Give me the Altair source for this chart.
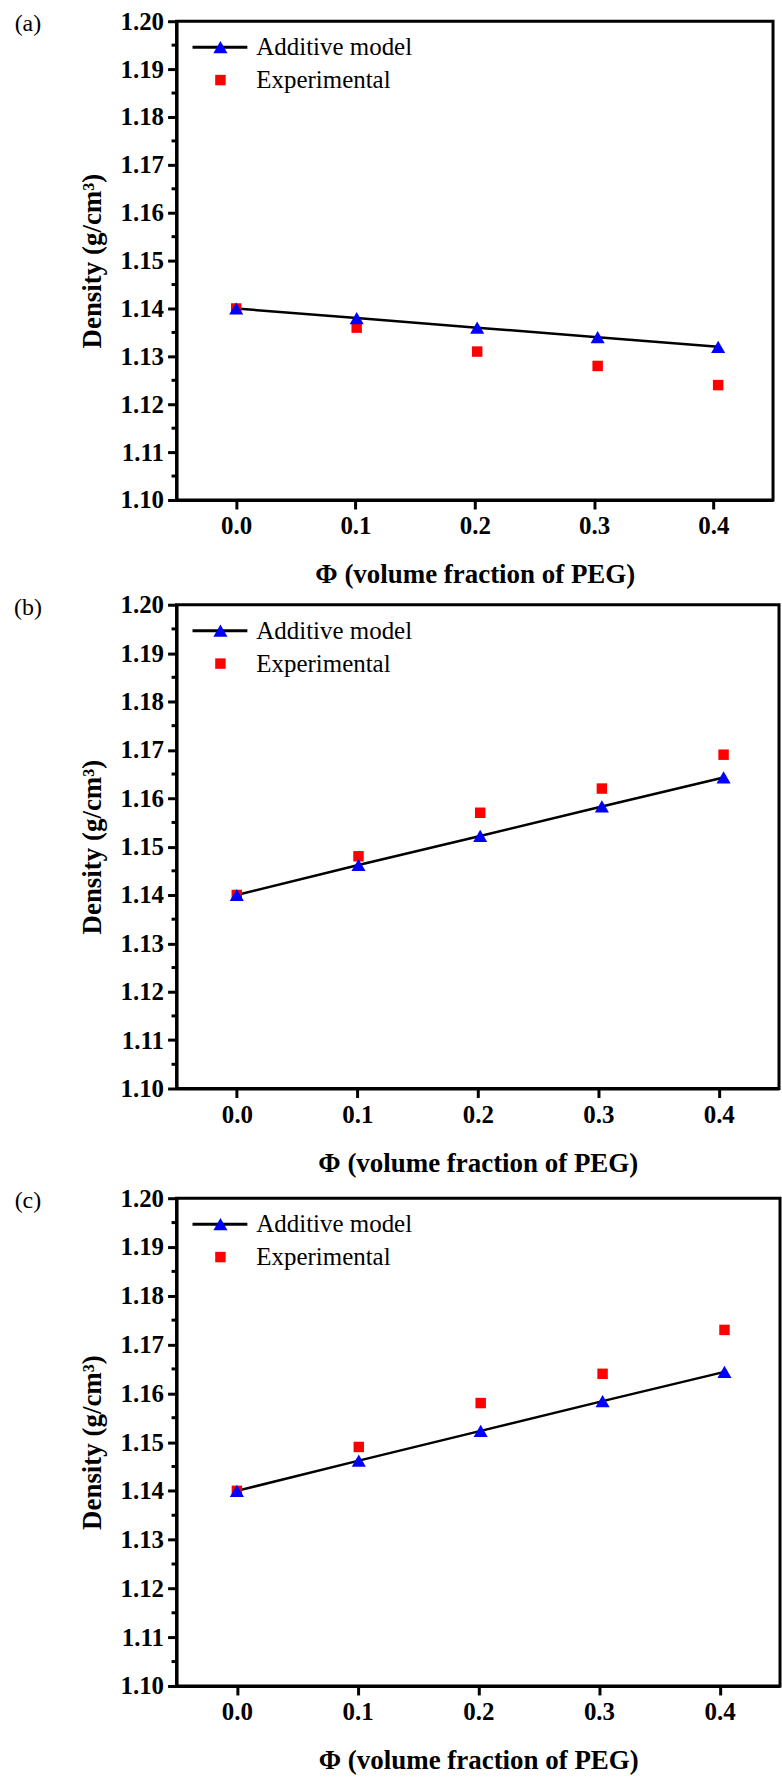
import altair as alt
import pandas as pd

phi = [0.0, 0.101, 0.202, 0.303, 0.404]
additive_a = [1.140, 1.138, 1.136, 1.134, 1.132]
experimental_a = [1.140, 1.136, 1.131, 1.128, 1.124]
additive_b = [1.140, 1.1462, 1.1522, 1.1583, 1.1643]
experimental_b = [1.140, 1.148, 1.157, 1.162, 1.169]
additive_c = [1.140, 1.1462, 1.1523, 1.1584, 1.1644]
experimental_c = [1.140, 1.149, 1.158, 1.164, 1.173]
panel_labels = ["(a)", "(b)", "(c)"]
x_ticks = [0.0, 0.1, 0.2, 0.3, 0.4]
y_ticks = [1.10, 1.11, 1.12, 1.13, 1.14, 1.15, 1.16, 1.17, 1.18, 1.19, 1.20]
y_minor = [1.105, 1.115, 1.125, 1.135, 1.145, 1.155, 1.165, 1.175, 1.185, 1.195]
legend_names = ["Additive model", "Experimental"]

FONT = "Liberation Serif"


def panel(label, add, exp, width, height):
    df = pd.DataFrame({"phi": phi, "additive": add, "experimental": exp})
    xs = alt.Scale(domain=[-0.05, 0.45], nice=False, zero=False)
    ys = alt.Scale(domain=[1.10, 1.20], nice=False, zero=False)
    xax = alt.Axis(values=x_ticks, format=".1f", title="Φ (volume fraction of PEG)",
                   grid=False, tickSize=9, tickWidth=3, domainWidth=3, domainColor="black",
                   tickColor="black", labelFont=FONT, labelFontSize=25, labelFontWeight="bold",
                   labelColor="black", labelPadding=5, titleFont=FONT, titleFontSize=27,
                   titleFontWeight="bold", titleColor="black", titlePadding=23)
    yax = alt.Axis(values=y_ticks, format=".2f", title="Density (g/cm³)",
                   grid=False, tickSize=9, tickWidth=3, domainWidth=3, domainColor="black",
                   tickColor="black", labelFont=FONT, labelFontSize=25, labelFontWeight="bold",
                   labelColor="black", labelPadding=4, titleFont=FONT, titleFontSize=27,
                   titleFontWeight="bold", titleColor="black", titlePadding=13)
    base = alt.Chart(df)
    line = base.mark_line(color="black", strokeWidth=2.5).encode(
        x=alt.X("phi:Q", scale=xs, axis=xax), y=alt.Y("additive:Q", scale=ys, axis=yax))
    sq = base.mark_point(shape="square", filled=True, color="#ff0000", size=110, opacity=1).encode(
        x="phi:Q", y="experimental:Q")
    tri = base.mark_point(shape="triangle-up", filled=True, color="#0000ff", size=200, opacity=1).encode(
        x="phi:Q", y="additive:Q")
    minor = alt.Chart(pd.DataFrame({"v": y_minor})).mark_rule(color="black", strokeWidth=3).encode(
        y="v:Q", x=alt.value(-5), x2=alt.value(0))
    one = alt.Data(values=[{}])
    leg_line = alt.Chart(one).mark_rule(color="black", strokeWidth=3).encode(
        x=alt.value(16), x2=alt.value(71), y=alt.value(26))
    leg_tri = alt.Chart(one).mark_point(shape="triangle-up", filled=True, color="#0000ff", size=200, opacity=1).encode(
        x=alt.value(44), y=alt.value(26))
    leg_sq = alt.Chart(one).mark_point(shape="square", filled=True, color="#ff0000", size=110, opacity=1).encode(
        x=alt.value(44), y=alt.value(59))
    leg_t1 = alt.Chart(one).mark_text(align="left", baseline="middle", font=FONT, fontSize=25, color="black").encode(
        x=alt.value(80), y=alt.value(26), text=alt.value(legend_names[0]))
    leg_t2 = alt.Chart(one).mark_text(align="left", baseline="middle", font=FONT, fontSize=25, color="black").encode(
        x=alt.value(80), y=alt.value(59), text=alt.value(legend_names[1]))
    lab = alt.Chart(one).mark_text(align="center", baseline="middle", font=FONT, fontSize=24, color="black").encode(
        x=alt.value(-149), y=alt.value(3), text=alt.value(label))
    return alt.layer(line, sq, tri, minor, leg_line, leg_tri, leg_sq, leg_t1, leg_t2, lab).properties(
        width=width, height=height)


top_two = alt.vconcat(
    panel(panel_labels[0], additive_a, experimental_a, 598, 480),
    panel(panel_labels[1], additive_b, experimental_b, 604, 485),
    spacing=1,
)
chart = alt.vconcat(
    top_two,
    panel(panel_labels[2], additive_c, experimental_c, 605, 489),
    spacing=6,
).properties(
    padding={"left": 12, "top": 5, "right": 0, "bottom": 0}, background="white"
).configure_view(stroke="black", strokeWidth=3)

chart.save("out.html", embed_options={"renderer": "svg", "actions": False})
